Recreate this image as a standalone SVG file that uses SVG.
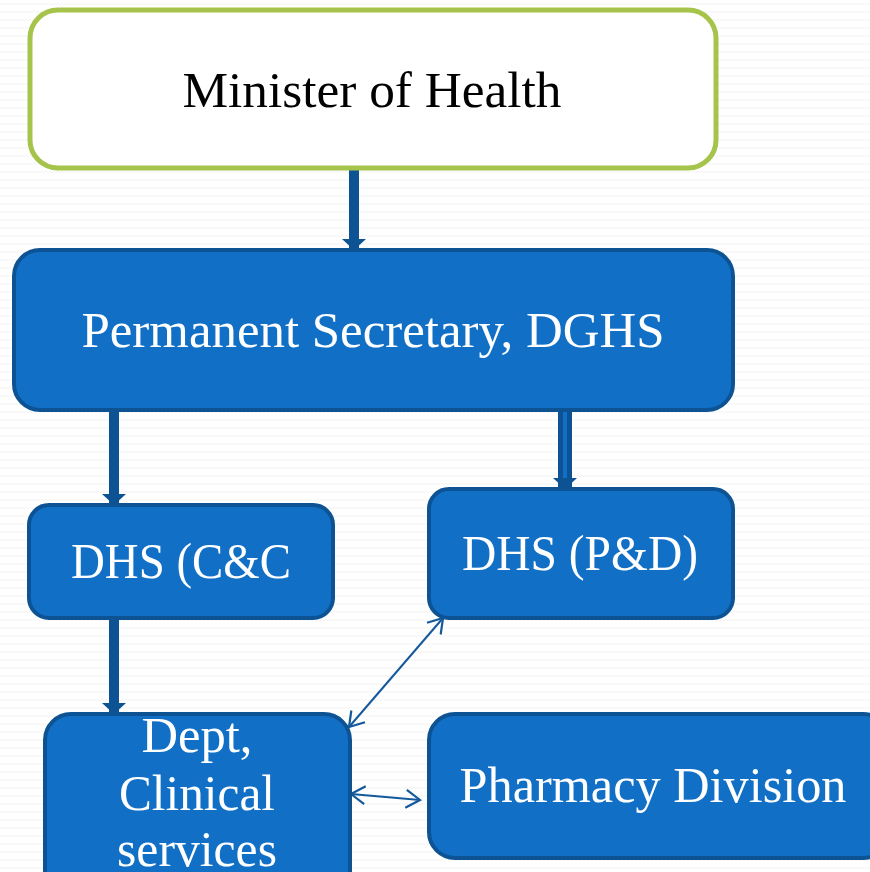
<svg xmlns="http://www.w3.org/2000/svg" width="870" height="872" viewBox="0 0 870 872">
<defs>
<pattern id="bg" width="8" height="8" patternUnits="userSpaceOnUse">
<rect width="8" height="8" fill="#ffffff"/>
<path d="M0,5 L2,3 L4,5 L6,3 L8,5" fill="none" stroke="#f3f3f3" stroke-width="1"/>
</pattern>
<marker id="thick" markerUnits="userSpaceOnUse" markerWidth="14" markerHeight="26" refX="11" refY="13" orient="auto" viewBox="0 0 14 26">
<path d="M0,1 L11,13 L0,25 Z" fill="#0D5394"/>
</marker>
<marker id="open" markerUnits="userSpaceOnUse" markerWidth="24" markerHeight="24" refX="20" refY="10" orient="auto-start-reverse" viewBox="0 0 24 20">
<path d="M6,1 L20,10 L6,19" fill="none" stroke="#13599B" stroke-width="2.2"/>
</marker>
</defs>
<style>
.box{fill:#1170C6;stroke:#0D5394;stroke-width:4}
.lbl{font-family:"Liberation Serif","DejaVu Serif",serif;font-size:50px;fill:#ffffff;text-anchor:middle}
.th{stroke:#0D5394;stroke-width:10;fill:none}
.tn{stroke:#13599B;stroke-width:2;fill:none}
</style>
<rect width="870" height="872" fill="url(#bg)"/>
<g id="connectors">
<line class="th" x1="354" y1="168" x2="354" y2="250" marker-end="url(#thick)"/>
<line class="th" x1="114" y1="410" x2="114" y2="505" marker-end="url(#thick)"/>
<line class="th" x1="114" y1="620" x2="114" y2="714" marker-end="url(#thick)"/>
<line x1="565" y1="410" x2="565" y2="489" stroke="#0D5394" stroke-width="14" marker-end="url(#thick)"/>
<line x1="565" y1="412" x2="565" y2="478" stroke="#1170C6" stroke-width="4"/>
<line class="tn" x1="443" y1="618" x2="349" y2="727" marker-start="url(#open)" marker-end="url(#open)"/>
<line class="tn" x1="351" y1="794" x2="420" y2="800" marker-start="url(#open)" marker-end="url(#open)"/>
</g>
<g id="minister">
<rect x="30" y="10" width="686" height="158" rx="28" fill="#ffffff" stroke="#A6C44B" stroke-width="5"/>
<text x="372" y="107" class="lbl" style="fill:#000000" textLength="379" lengthAdjust="spacingAndGlyphs">Minister of Health</text>
</g>
<g id="ps">
<rect class="box" x="14" y="250" width="719" height="160" rx="26"/>
<text x="373" y="347" class="lbl" textLength="583" lengthAdjust="spacingAndGlyphs">Permanent Secretary, DGHS</text>
</g>
<g id="dhs-cc">
<rect class="box" x="29" y="505" width="304" height="113" rx="20"/>
<text x="181" y="578" class="lbl" textLength="220" lengthAdjust="spacingAndGlyphs">DHS (C&amp;C</text>
</g>
<g id="dhs-pd">
<rect class="box" x="429" y="489" width="304" height="129" rx="20"/>
<text x="580" y="570" class="lbl" textLength="236" lengthAdjust="spacingAndGlyphs">DHS (P&amp;D)</text>
</g>
<g id="dept">
<rect class="box" x="45" y="714" width="305" height="190" rx="26"/>
<text class="lbl" x="197" y="752" textLength="111" lengthAdjust="spacingAndGlyphs">Dept,</text>
<text class="lbl" x="197" y="810" textLength="156" lengthAdjust="spacingAndGlyphs">Clinical</text>
<text class="lbl" x="197" y="866" textLength="160" lengthAdjust="spacingAndGlyphs">services</text>
</g>
<g id="pharmacy">
<rect class="box" x="429" y="714" width="460" height="144" rx="26"/>
<text x="653" y="802" class="lbl" textLength="387" lengthAdjust="spacingAndGlyphs">Pharmacy Division</text>
</g>
</svg>
